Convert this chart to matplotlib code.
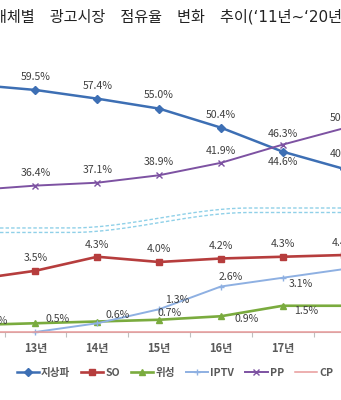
import matplotlib
matplotlib.use('Agg')
import matplotlib.pyplot as plt
import numpy as np
from matplotlib.lines import Line2D

plt.rcParams['font.family'] = ['Noto Sans CJK KR', 'DejaVu Sans']

# ---------------- data ----------------
years = [12, 13, 14, 15, 16, 17, 18]
tick_years = [13, 14, 15, 16, 17]
tick_labels = ['13년', '14년', '15년', '16년', '17년']
terrestrial = [60.8, 59.5, 57.4, 55.0, 50.4, 44.6, 40.4]   # 지상파
pp = [35.3, 36.4, 37.1, 38.9, 41.9, 46.3, 50.3]            # PP
so = [3.0, 3.5, 4.3, 4.0, 4.2, 4.3, 4.4]                   # SO
satellite = [0.4, 0.5, 0.6, 0.7, 0.9, 1.5, 1.5]            # 위성
iptv = [np.nan, 0.0, 0.5, 1.3, 2.6, 3.1, 3.6]              # IPTV
cp = [0.0, 0.0, 0.0, 0.0, 0.0, 0.0, 0.0]                   # CP
series_names = ['지상파', 'SO', '위성', 'IPTV', 'PP', 'CP']
title = '매체별\u3000광고시장\u3000점유율\u3000변화\u3000추이(‘11년~‘20년)'

# ---------------- figure ----------------
W, H = 341, 400
fig = plt.figure(figsize=(W / 100, H / 100), dpi=100)
fig.patch.set_facecolor('white')

px13, step = 35.5, 61.8
y_axis_px, y_top_px = 332, 60
ax1 = fig.add_axes([0, 1 - y_axis_px / H, 1, (y_axis_px - y_top_px) / H])
ax1.set_xlim(13 - px13 / step, 13 + (W - px13) / step)
up_scale, up_zero = 4.14, 336.3
ax1.set_ylim((up_zero - y_axis_px) / up_scale, (up_zero - y_top_px) / up_scale)
ax2 = ax1.twinx()
lo_scale = 17.5
ax2.set_ylim(0, (y_axis_px - y_top_px) / lo_scale)

for ax in (ax1, ax2):
    ax.set_facecolor('none')
    for s in ax.spines.values():
        s.set_visible(False)
    ax.set_yticks([])
ax1.spines['bottom'].set_visible(True)
ax1.spines['bottom'].set_color('#bfbfbf')
ax1.spines['bottom'].set_linewidth(0.8)

ax1.set_xticks(tick_years)
ax1.set_xticklabels(tick_labels, fontsize=8, fontweight='bold', color='#595959')
ax1.set_xticks([12.5, 13.5, 14.5, 15.5, 16.5, 17.5], minor=True)
ax1.tick_params(axis='x', which='major', length=0, pad=7)
ax1.tick_params(axis='x', which='minor', length=3.6, width=0.8, color='#bfbfbf')

c_ter, c_so, c_sat, c_iptv, c_pp, c_cp = '#3d6fb4', '#b63d3d', '#7aab3e', '#8eb0e2', '#7d52a2', '#e89a9a'

l_ter, = ax1.plot(years, terrestrial, color=c_ter, lw=1.8, marker='D', ms=3.8,
                  clip_on=False, zorder=3)
l_pp, = ax1.plot(years, pp, color=c_pp, lw=1.4, marker='x', ms=5, mew=1.0,
                 clip_on=False, zorder=3)
l_so, = ax2.plot(years, so, color=c_so, lw=1.9, marker='s', ms=4.5,
                 clip_on=False, zorder=3)
l_sat, = ax2.plot(years, satellite, color=c_sat, lw=1.9, marker='^', ms=5,
                  clip_on=False, zorder=3)
l_iptv, = ax2.plot(years, iptv, color=c_iptv, lw=1.4, marker='+', ms=5, mew=1.0,
                   clip_on=False, zorder=3)
l_cp, = ax2.plot(years, cp, color=c_cp, lw=1.1, clip_on=False, zorder=4)

lab_kw = dict(textcoords='offset points', ha='center', va='center',
              fontsize=7.6, color='#404040', annotation_clip=False)
k = 0.72  # px -> pt

def label(ax, xs, vals, offs):
    for x, v, o in zip(xs, vals, offs):
        if o is None or v is None or (isinstance(v, float) and np.isnan(v)):
            continue
        ax.annotate(f'{v:.1f}%', (x, v), xytext=(o[0] * k, o[1] * k), **lab_kw)

label(ax1, years, terrestrial, [(0, 13), (0, 13), (0, 13), (0, 14), (0, 13), (0, -10), (0, 15)])
label(ax1, years, pp, [(0, 13), (0, 13), (0, 13), (0, 13), (0, 12), (0, 11), (0, 10)])
label(ax2, years, so, [(0, 13), (0, 13), (0, 12), (0, 13), (0, 12.5), (0, 13), (0, 12)])
label(ax2, years, iptv, [None, None, None, (18, 9), (10, 9), (18, -6), (18, -6)])
label(ax2, years, satellite, [(22, 4), (22, 4), (20, 6), (10, 7), (26, -3), (23, -5), (23, -5)])

# axis-break marks (decoration): two dashed S-curves
xs = np.linspace(0, W, 200)
t = np.clip((xs - 70) / (250 - 70), 0, 1)
sm = t * t * (3 - 2 * t)
for off in (0, 4.5):
    ys = 228 + off - 20 * sm
    fig.add_artist(Line2D(xs / W, 1 - ys / H, transform=fig.transFigure,
                          color='#8fd0e8', lw=1.0, ls=(0, (2.5, 1.5))))

# title (Latin part in DejaVu for its wider digits, Hangul falls back to Noto CJK)
fig.text(-7 / W, 1 - 17 / H, title, ha='left', va='center', fontsize=10.9,
         color='#222222', family=['DejaVu Sans', 'Noto Sans CJK KR'])

# legend
leg = fig.legend([l_ter, l_so, l_sat, l_iptv, l_pp, l_cp], series_names,
                 loc='center', bbox_to_anchor=(175 / W, 1 - 373 / H), ncol=6,
                 frameon=False, handlelength=2.1, handletextpad=0.2,
                 columnspacing=1.05, borderaxespad=0,
                 prop=dict(size=7.6, weight='bold'), labelcolor='#595959')

fig.savefig('out.png', dpi=100)
